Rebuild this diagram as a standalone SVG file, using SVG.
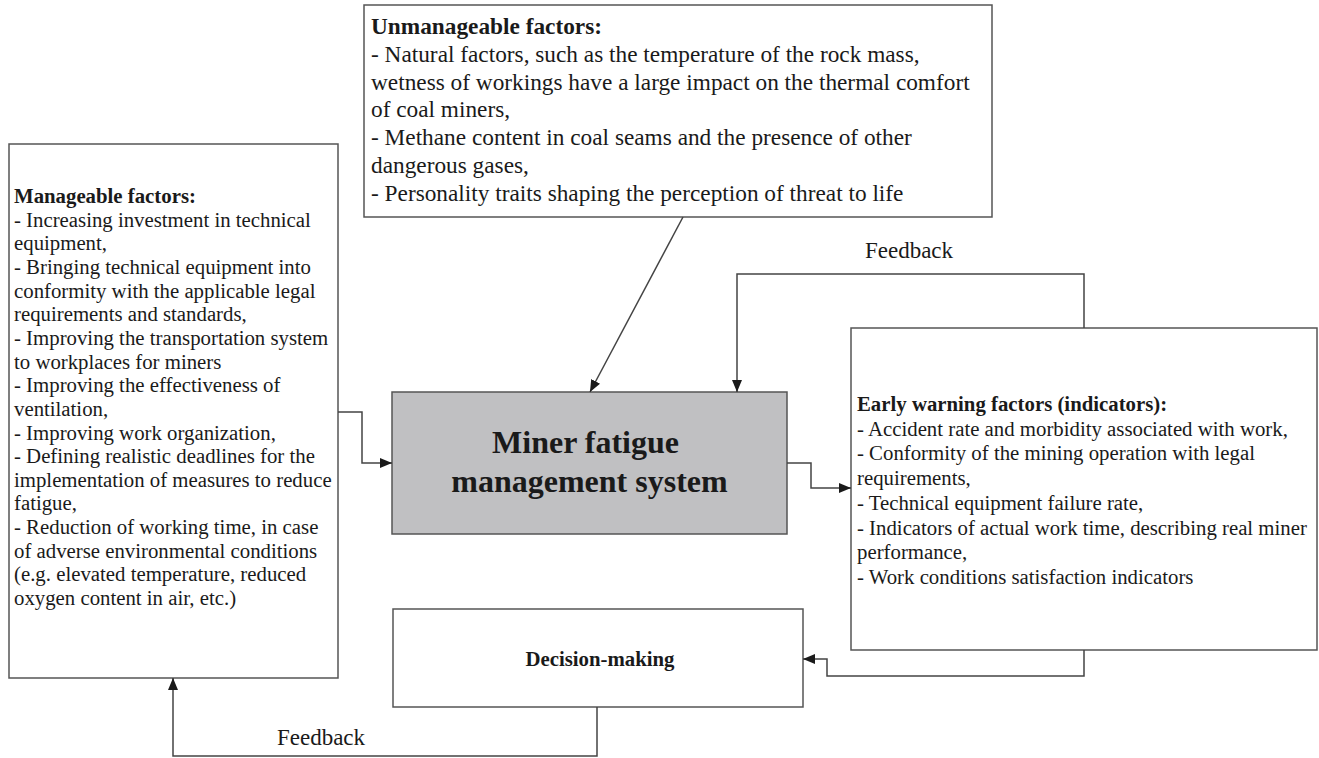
<svg xmlns="http://www.w3.org/2000/svg" width="1319" height="758" viewBox="0 0 1319 758">
<style>
.box{fill:#ffffff;stroke:#555555;stroke-width:1.5}
.core{fill:#c0c0c2;stroke:#555555;stroke-width:1.5}
.t{font-family:"Liberation Serif","Tinos","Noto Serif","DejaVu Serif",serif;font-weight:400;fill:#1a1a1a}
.s{font-size:20.8px}
.u{font-size:23.3px}
.b{font-weight:700}
.conn path,.conn line{fill:none;stroke:#444444;stroke-width:1.5}
</style>
<defs>
<marker id="ah" viewBox="0 0 12 10" refX="12" refY="5" markerWidth="12" markerHeight="10" markerUnits="userSpaceOnUse" orient="auto">
<path d="M0,0 L12,5 L0,10 Z" fill="#1a1a1a"/>
</marker>
</defs>

<g id="unmanageable">
<rect class="box" x="364" y="5" width="628" height="212"/>
<text class="t u" x="371">
<tspan class="b" x="371" y="34">Unmanageable factors:</tspan>
<tspan x="371" y="62">- Natural factors, such as the temperature of the rock mass,</tspan>
<tspan x="371" y="90">wetness of workings have a large impact on the thermal comfort</tspan>
<tspan x="371" y="117">of coal miners,</tspan>
<tspan x="371" y="145">- Methane content in coal seams and the presence of other</tspan>
<tspan x="371" y="173">dangerous gases,</tspan>
<tspan x="371" y="201">- Personality traits shaping the perception of threat to life</tspan>
</text>
</g>

<g id="manageable">
<rect class="box" x="9" y="144" width="329" height="534"/>
<text class="t s">
<tspan class="b" x="14" y="203">Manageable factors:</tspan>
<tspan x="14" y="227">- Increasing investment in technical</tspan>
<tspan x="14" y="250">equipment,</tspan>
<tspan x="14" y="274">- Bringing technical equipment into</tspan>
<tspan x="14" y="298">conformity with the applicable legal</tspan>
<tspan x="14" y="321">requirements and standards,</tspan>
<tspan x="14" y="345">- Improving the transportation system</tspan>
<tspan x="14" y="369">to workplaces for miners</tspan>
<tspan x="14" y="392">- Improving the effectiveness of</tspan>
<tspan x="14" y="416">ventilation,</tspan>
<tspan x="14" y="440">- Improving work organization,</tspan>
<tspan x="14" y="463">- Defining realistic deadlines for the</tspan>
<tspan x="14" y="487">implementation of measures to reduce</tspan>
<tspan x="14" y="510">fatigue,</tspan>
<tspan x="14" y="534">- Reduction of working time, in case</tspan>
<tspan x="14" y="558">of adverse environmental conditions</tspan>
<tspan x="14" y="581">(e.g. elevated temperature, reduced</tspan>
<tspan x="14" y="605">oxygen content in air, etc.)</tspan>
</text>
</g>

<g id="system">
<rect class="core" x="392" y="392" width="395" height="142"/>
<text class="t b" font-size="32" text-anchor="middle">
<tspan x="589.5" y="453">Miner fatigue</tspan>
<tspan x="589.5" y="492">management system</tspan>
</text>
</g>

<g id="early-warning">
<rect class="box" x="851" y="328" width="466" height="322"/>
<text class="t s">
<tspan class="b" x="857" y="411">Early warning factors (indicators):</tspan>
<tspan x="857" y="436">- Accident rate and morbidity associated with work,</tspan>
<tspan x="857" y="460">- Conformity of the mining operation with legal</tspan>
<tspan x="857" y="485">requirements,</tspan>
<tspan x="857" y="510">- Technical equipment failure rate,</tspan>
<tspan x="857" y="535">- Indicators of actual work time, describing real miner</tspan>
<tspan x="857" y="559">performance,</tspan>
<tspan x="857" y="584">- Work conditions satisfaction indicators</tspan>
</text>
</g>

<g id="decision">
<rect class="box" x="393" y="609" width="410" height="98"/>
<text class="t s b" x="600" y="666" text-anchor="middle">Decision-making</text>
</g>

<g class="conn" id="connectors">
<line x1="683" y1="217" x2="590" y2="392" marker-end="url(#ah)"/>
<path d="M1084,328 V274 H737 V392" marker-end="url(#ah)"/>
<path d="M338,412 H362 V463 H392" marker-end="url(#ah)"/>
<path d="M787,463 H811 V488 H851" marker-end="url(#ah)"/>
<path d="M1084,650 V676 H827 V659 H803" marker-end="url(#ah)"/>
<path d="M597,707 V756 H173 V678" marker-end="url(#ah)"/>
</g>

<g id="labels">
<text class="t" font-size="23" x="909" y="258" text-anchor="middle">Feedback</text>
<text class="t" font-size="23" x="321" y="745" text-anchor="middle">Feedback</text>
</g>
</svg>
